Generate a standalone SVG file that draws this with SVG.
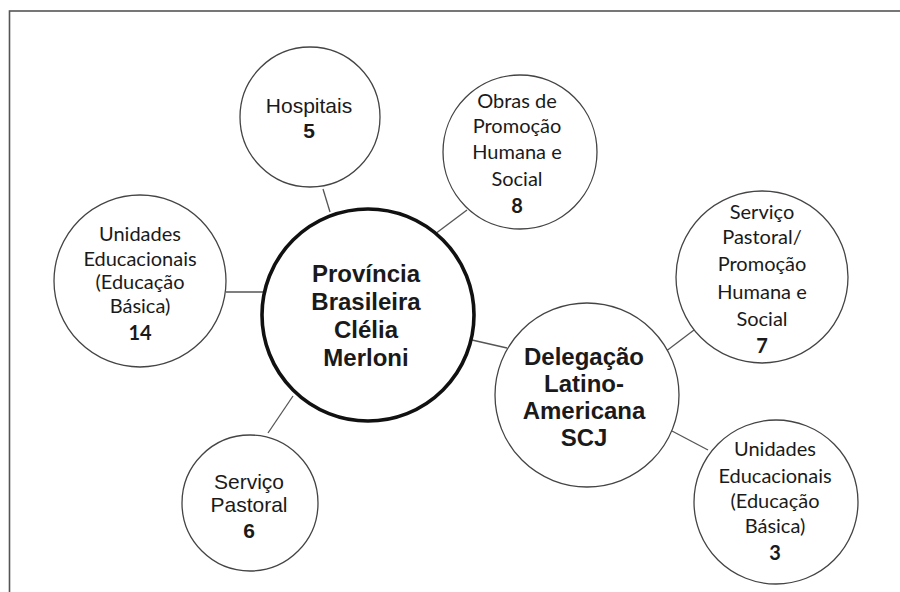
<svg xmlns="http://www.w3.org/2000/svg" width="900" height="592" viewBox="0 0 900 592">
  <style>
    .bg { fill: #ffffff; }
    .frame { fill: none; stroke: #555555; stroke-width: 1.6; }
    .node { fill: #ffffff; stroke: #444444; stroke-width: 1.3; }
    .hub { fill: #ffffff; stroke: #111111; stroke-width: 3.6; }
    .link { stroke: #555555; stroke-width: 1.3; fill: none; }
    .big { font-family: "Liberation Sans", Arial, sans-serif; font-weight: bold; font-size: 24px; fill: #1a1a1a; text-anchor: middle; }
    .arial { font-family: "Liberation Sans", Arial, sans-serif; font-size: 21px; fill: #1a1a1a; text-anchor: middle; }
    .cal { font-family: Lato, "Open Sans", sans-serif; font-size: 20px; fill: #1a1a1a; text-anchor: middle; }
    .b { font-weight: bold; }
  </style>
  <rect class="bg" x="0" y="0" width="900" height="592"/>
  <rect class="frame" x="9.5" y="11" width="900" height="600"/>

  <g id="connectors">
    <line class="link" x1="323" y1="189" x2="330" y2="212"/>
    <line class="link" x1="467" y1="210" x2="435" y2="234"/>
    <line class="link" x1="226" y1="292" x2="268" y2="292"/>
    <line class="link" x1="293" y1="396" x2="268" y2="433"/>
    <line class="link" x1="472" y1="340" x2="507" y2="348"/>
    <line class="link" x1="665" y1="352" x2="694" y2="330"/>
    <line class="link" x1="672" y1="431" x2="708" y2="450"/>
  </g>

  <g id="hospitais">
    <circle class="node" cx="310" cy="117" r="70"/>
    <text class="arial" x="309" y="113">Hospitais</text>
    <text class="arial b" x="309" y="138">5</text>
  </g>

  <g id="obras">
    <circle class="node" cx="520" cy="152" r="77"/>
    <text class="cal" x="517" y="108">Obras de</text>
    <text class="cal" x="517" y="133">Promoção</text>
    <text class="cal" x="517" y="159">Humana e</text>
    <text class="cal" x="517" y="186">Social</text>
    <text class="cal b" x="517" y="213">8</text>
  </g>

  <g id="unidades-provincia">
    <circle class="node" cx="140" cy="281" r="86"/>
    <text class="cal" x="140" y="241">Unidades</text>
    <text class="cal" x="140" y="266">Educacionais</text>
    <text class="cal" x="140" y="289">(Educação</text>
    <text class="cal" x="140" y="313">Básica)</text>
    <text class="cal b" x="140" y="340">14</text>
  </g>

  <g id="provincia">
    <circle class="hub" cx="368" cy="315" r="106"/>
    <text class="big" x="366" y="282">Província</text>
    <text class="big" x="366" y="310">Brasileira</text>
    <text class="big" x="366" y="338">Clélia</text>
    <text class="big" x="366" y="366">Merloni</text>
  </g>

  <g id="servico-pastoral">
    <circle class="node" cx="250" cy="503" r="68"/>
    <text class="arial" x="249" y="489">Serviço</text>
    <text class="arial" x="249" y="512">Pastoral</text>
    <text class="arial b" x="249" y="538">6</text>
  </g>

  <g id="delegacao">
    <circle class="node" cx="587" cy="395" r="92"/>
    <text class="big" x="584" y="365">Delegação</text>
    <text class="big" x="584" y="392">Latino-</text>
    <text class="big" x="584" y="419">Americana</text>
    <text class="big" x="584" y="446">SCJ</text>
  </g>

  <g id="servico-promocao">
    <circle class="node" cx="762" cy="277" r="86"/>
    <text class="cal" x="762" y="219">Serviço</text>
    <text class="cal" x="762" y="244">Pastoral/</text>
    <text class="cal" x="762" y="271">Promoção</text>
    <text class="cal" x="762" y="299">Humana e</text>
    <text class="cal" x="762" y="326">Social</text>
    <text class="cal b" x="762" y="353">7</text>
  </g>

  <g id="unidades-delegacao">
    <circle class="node" cx="776" cy="502" r="82"/>
    <text class="cal" x="775" y="456">Unidades</text>
    <text class="cal" x="775" y="483">Educacionais</text>
    <text class="cal" x="775" y="508">(Educação</text>
    <text class="cal" x="775" y="533">Básica)</text>
    <text class="cal b" x="775" y="560">3</text>
  </g>
</svg>
